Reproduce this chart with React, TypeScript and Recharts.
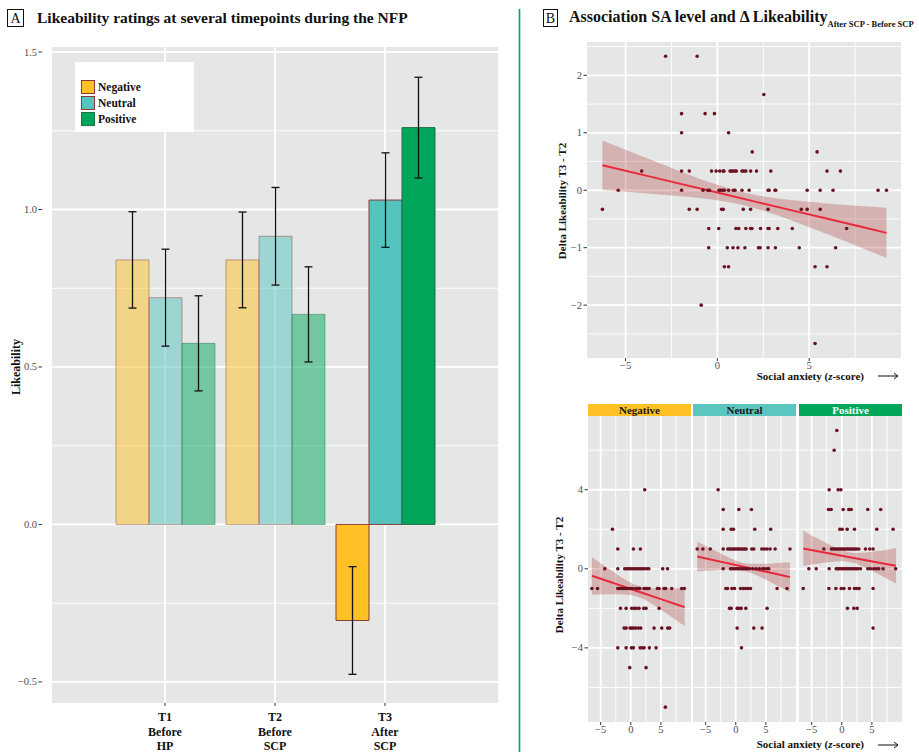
import React from 'react'
import {
  BarChart,
  Bar,
  ErrorBar,
  Cell,
  ComposedChart,
  Area,
  Line,
  Scatter,
  XAxis,
  YAxis,
  CartesianGrid,
  Legend,
} from 'recharts'

const FONT = '"Liberation Serif", "DejaVu Serif", serif'
const PANEL = '#E5E6E6'
const TICK = '#4D4D4D'
const DOT = '#6B1222'

// ---------- panel A: bars ----------
const tpLabels = [
  ['T1', 'Before', 'HP'],
  ['T2', 'Before', 'SCP'],
  ['T3', 'After', 'SCP'],
]
const groupNames = ['Negative', 'Neutral', 'Positive']
const negMean = [0.84, 0.84, -0.305]
const neuMean = [0.72, 0.915, 1.03]
const posMean = [0.575, 0.667, 1.26]
const negSe = [0.153, 0.152, 0.171]
const neuSe = [0.154, 0.155, 0.15]
const posSe = [0.151, 0.151, 0.16]
const faded = [true, true, false]
const likeTicks = [-0.5, 0, 0.5, 1, 1.5]
const likeMinor = [-0.25, 0.25, 0.75, 1.25]

const groupFill = ['#FFC125', '#56C4BE', '#00A65A']
const groupStroke = ['#8B3A3A', '#8B3A3A', '#1F7046']

// ---------- panel B: scatter ----------
const xDomain = [-7.1, 10.0]
const xTicks = [-5, 0, 5]
const xMinor = [-2.5, 2.5, 7.5]

// all stimuli pooled, rows = delta level, values = social anxiety z
const allLevels: [number, number[]][] = [
  [2.333, [-2.82, -1.1]],
  [1.667, [2.53]],
  [1.333, [-1.95, -0.67, -0.16]],
  [1.0, [-1.95, 0.61]],
  [0.667, [1.9, 5.43]],
  [0.333, [-4.12, -1.95, -1.53, -0.32, -0.07, 0.13, 0.31, 0.36, 0.69, 0.76, 0.85, 0.96, 1.03, 1.34, 1.44, 1.55, 1.81, 2.13, 2.91, 5.97, 6.7]],
  [0, [-5.4, -1.95, -0.78, -0.52, -0.43, 0.09, 0.18, 0.29, 0.38, 0.61, 0.87, 0.96, 1.34, 1.73, 2.76, 2.82, 3.14, 3.18, 4.89, 5.6, 6.3, 8.75, 9.21]],
  [-0.333, [-6.26, -1.53, -1.1, 0.23, 0.32, 1.41, 1.81, 2.76, 4.57, 4.89, 5.6]],
  [-0.667, [-0.47, 0.07, 1.01, 1.16, 1.55, 1.81, 1.88, 2.35, 2.76, 2.82, 3.29, 4.08, 7.04]],
  [-1, [-0.47, 0.54, 0.85, 1.12, 1.5, 2.24, 2.33, 2.76, 3.16, 4.46, 6.44]],
  [-1.333, [0.38, 0.61, 5.32, 5.97]],
  [-2, [-0.88]],
  [-2.667, [5.32]],
]
const allFitX = [-6.26, -4, -2, 0, 2, 4, 6, 8, 9.21]
const allFitY = [0.435, 0.263, 0.111, -0.041, -0.194, -0.346, -0.498, -0.65, -0.742]
const allFitHw = [0.43, 0.314, 0.217, 0.135, 0.114, 0.176, 0.269, 0.371, 0.435]

const negLevels: [number, number[]][] = [
  [4, [2.32]],
  [2, [-3.04]],
  [1, [-2.15, 0.44, 1.6]],
  [0, [-4.31, -2.15, -1.0, -0.7, -0.4, -0.1, 0.2, 0.5, 0.8, 1.1, 1.4, 1.7, 2.0, 2.3, 2.7, 3.0, 5.3, 6.1]],
  [-1, [-6.46, -5.52, -2.15, -1.93, -1.66, -1.38, -1.1, -0.83, -0.55, -0.28, 0, 0.28, 0.83, 1.22, 1.49, 2.21, 2.49, 2.76, 3.04, 4.42, 4.7, 5.52, 5.8, 6.8, 8.45, 8.9]],
  [-2, [-1.71, -0.77, 0.17, 0.55, 0.94, 1.38, 2.15, 2.54, 4.7]],
  [-3, [-1.1, -0.77, -0.11, 0.17, 0.44, 0.83, 1.27, 1.66, 3.87, 5.14, 6.13, 6.46]],
  [-4, [-2.15, -0.77, 0.11, 0.44, 1.55, 1.93, 2.21, 3.09, 4.2]],
  [-5, [-0.17, 2.54]],
  [-7, [5.74]],
]
const negFitX = [-6.46, -4, -2, 0, 2, 4, 6, 8, 8.95]
const negFitY = [-0.354, -0.607, -0.813, -1.019, -1.225, -1.431, -1.637, -1.843, -1.94]
const negFitHw = [0.955, 0.68, 0.47, 0.31, 0.295, 0.435, 0.64, 0.857, 0.97]

const neuLevels: [number, number[]][] = [
  [4, [-2.93]],
  [3, [-2.09, 0.51, 2.6]],
  [2, [-2.09, -0.76, -0.38, 3.15, 5.8]],
  [1, [-6.4, -5.46, -4.24, -2.09, -1.32, -1.04, -0.76, -0.49, -0.21, 0.07, 0.34, 0.62, 0.9, 1.17, 1.45, 1.72, 2.66, 2.99, 4.32, 4.76, 5.2, 5.7, 6.53, 9.0]],
  [0, [-2.09, -0.87, -0.6, -0.32, -0.04, 0.23, 0.51, 0.79, 1.06, 1.34, 1.62, 1.89, 2.28, 2.83, 3.38, 3.94, 4.49, 4.76, 5.2, 5.48]],
  [-1, [-1.65, -1.37, -0.65, -0.21, 0.79, 1.23, 1.62, 2.0, 2.44, 6.86, 8.5]],
  [-2, [-1.04, -0.76, 0.23, 0.51, 0.9, 1.67, 5.2]],
  [-3, [0.23, 2.99, 4.37]],
  [-4, [0.95]],
]
const neuFitX = [-6.4, -4, -2, 0, 2, 4, 6, 8, 9.0]
const neuFitY = [0.624, 0.461, 0.326, 0.19, 0.054, -0.081, -0.217, -0.353, -0.42]
const neuFitHw = [0.76, 0.543, 0.372, 0.235, 0.211, 0.326, 0.49, 0.669, 0.75]

const posLevels: [number, number[]][] = [
  [7, [-0.82]],
  [6, [-1.26]],
  [4, [-2.09, -0.6, -0.15]],
  [3, [-2.2, -1.76, 0.23, 1.17, 1.56, 4.32, 6.47]],
  [2, [-0.32, 0.07, 0.9, 2.11, 5.81, 8.52]],
  [1, [-2.97, -1.7, -1.42, -1.15, -0.87, -0.6, -0.32, -0.04, 0.23, 0.51, 0.79, 1.06, 1.34, 1.61, 1.89, 2.17, 2.44, 2.83, 3.93, 4.65, 5.2]],
  [0, [-5.46, -4.24, -2.09, -0.93, -0.65, -0.38, -0.1, 0.18, 0.45, 0.73, 1.0, 1.28, 1.56, 1.83, 2.11, 2.39, 2.66, 3.1, 4.32, 4.76, 5.31, 5.75, 6.14, 6.86, 8.96]],
  [-1, [-6.4, -2.14, -0.98, -0.1, 0.34, 1.28, 2.11, 2.44, 2.88, 5.2]],
  [-2, [0.95, 2.0, 2.55]],
  [-3, [5.2]],
]
const posFitX = [-6.4, -4, -2, 0, 2, 4, 6, 8, 9.0]
const posFitY = [1.03, 0.893, 0.779, 0.665, 0.551, 0.437, 0.323, 0.209, 0.152]
const posFitHw = [0.89, 0.637, 0.439, 0.281, 0.253, 0.385, 0.575, 0.784, 0.895]

const allYTicks = [-2, -1, 0, 1, 2]
const allYMinor = [-2.5, -1.5, -0.5, 0.5, 1.5, 2.5]
const facetYTicks = [-4, 0, 4]
const facetYMinor = [-6, -2, 2, 6]

const fmtNum = (v: number) => (v < 0 ? '\u2212' + Math.abs(v) : String(v))
const fmtLike = (v: number) => (v < 0 ? '\u2212' + Math.abs(v).toFixed(1) : v.toFixed(1))

const toPoints = (levels: [number, number[]][]) =>
  levels.flatMap(([y, xs]) => xs.map((x) => ({ x, y })))

const toFit = (xs: number[], ys: number[], hw: number[]) =>
  xs.map((x, i) => ({ x, y: ys[i], band: [ys[i] - hw[i], ys[i] + hw[i]] }))

const barData = tpLabels.map((l, i) => ({
  tp: l.join('|'),
  Negative: negMean[i],
  Neutral: neuMean[i],
  Positive: posMean[i],
  NegativeSe: negSe[i],
  NeutralSe: neuSe[i],
  PositiveSe: posSe[i],
}))

function makeYTick(fmt: (v: number) => string) {
  return (p: any) => (
    <g>
      <line x1={p.x + 1.5} x2={p.x + 5} y1={p.y} y2={p.y} stroke="#333" strokeWidth={1} />
      <text x={p.x} y={p.y} dy={3.5} textAnchor="end" fontSize={10.5} fill={TICK} fontFamily={FONT}>
        {fmt(p.payload.value)}
      </text>
    </g>
  )
}

const xTickScatter = (p: any) => (
  <text x={p.x} y={p.y} dy={8} textAnchor="middle" fontSize={10.5} fill={TICK} fontFamily={FONT}>
    {fmtNum(p.payload.value)}
  </text>
)

const xTickBars = (p: any) => {
  const lines = String(p.payload.value).split('|')
  return (
    <text x={p.x} y={p.y} textAnchor="middle" fontSize={12} fontWeight="bold" fill="#111" fontFamily={FONT}>
      {lines.map((s, i) => (
        <tspan key={i} x={p.x} dy={i === 0 ? 13 : 14.5}>
          {s}
        </tspan>
      ))}
    </text>
  )
}

const dotShape = (p: any) => <circle cx={p.cx} cy={p.cy} r={1.8} fill={DOT} />

const legendContent = () => (
  <div style={{ background: '#fff', width: 119, height: 70, boxSizing: 'border-box', paddingTop: 17, paddingLeft: 6 }}>
    {groupNames.map((g, i) => (
      <div key={g} style={{ display: 'flex', alignItems: 'center', height: 16 }}>
        <div
          style={{
            width: 14,
            height: 14,
            boxSizing: 'border-box',
            background: groupFill[i],
            border: `1.5px solid ${groupStroke[i]}`,
          }}
        />
        <span style={{ marginLeft: 3, font: `bold 11.5px ${FONT}`, color: '#111' }}>{g}</span>
      </div>
    ))}
  </div>
)

function LikeabilityBars() {
  return (
    <BarChart
      width={510}
      height={754}
      data={barData}
      margin={{ top: 47, right: 11, left: 0, bottom: 0 }}
      barCategoryGap={6}
      barGap={0}
    >
      <CartesianGrid fill={PANEL} stroke="#fff" strokeWidth={0.9} vertical={false} horizontalValues={likeMinor} />
      <CartesianGrid stroke="#fff" strokeWidth={1.8} horizontalValues={likeTicks} />
      <XAxis
        dataKey="tp"
        padding={{ left: 59, right: 59 }}
        height={51}
        axisLine={false}
        tickSize={3}
        tickMargin={2}
        tickLine={{ stroke: '#333' }}
        tick={xTickBars}
        interval={0}
      />
      <YAxis
        width={51}
        domain={[-0.567, 1.516]}
        ticks={likeTicks}
        allowDataOverflow
        axisLine={false}
        tickLine={false}
        tickSize={0}
        tickMargin={14}
        tick={makeYTick(fmtLike)}
      />
      {groupNames.map((g, gi) => (
        <Bar key={g} dataKey={g} name={g} fill={groupFill[gi]} stroke={groupStroke[gi]} strokeWidth={1} isAnimationActive={false}>
          {barData.map((_, i) => (
            <Cell key={i} fillOpacity={faded[i] ? 0.5 : 1} strokeOpacity={faded[i] ? 0.45 : 1} />
          ))}
          <ErrorBar dataKey={g + 'Se'} width={4} stroke="#111" strokeWidth={1.3} />
        </Bar>
      ))}
      <Legend
        layout="vertical"
        align="center"
        verticalAlign="middle"
        content={legendContent}
        wrapperStyle={{ left: 75, top: 62, width: 119, height: 70 }}
      />
    </BarChart>
  )
}

interface PanelProps {
  left: number
  top: number
  width: number
  height: number
  marginTop: number
  marginRight: number
  marginBottom: number
  yAxisWidth: number
  showY: boolean
  yDomain: number[]
  yTicks: number[]
  yMinor: number[]
  tickMargin: number
  levels: [number, number[]][]
  fit: { x: number; y: number; band: number[] }[]
}

function ScatterPanel(p: PanelProps) {
  const pts = toPoints(p.levels)
  return (
    <div style={{ position: 'absolute', left: p.left, top: p.top }}>
      <ComposedChart
        width={p.width}
        height={p.height}
        data={p.fit}
        margin={{ top: p.marginTop, right: p.marginRight, left: 0, bottom: p.marginBottom }}
      >
        <CartesianGrid fill={PANEL} stroke="#fff" strokeWidth={0.9} horizontalValues={p.yMinor} verticalValues={xMinor} />
        <CartesianGrid stroke="#fff" strokeWidth={1.8} horizontalValues={p.yTicks} verticalValues={xTicks} />
        <XAxis
          type="number"
          dataKey="x"
          domain={xDomain}
          ticks={xTicks}
          allowDataOverflow
          height={16}
          axisLine={false}
          tickSize={3}
          tickMargin={0}
          tickLine={{ stroke: '#333' }}
          tick={xTickScatter}
        />
        <YAxis
          type="number"
          dataKey="y"
          domain={p.yDomain}
          ticks={p.yTicks}
          allowDataOverflow
          hide={!p.showY}
          width={p.yAxisWidth}
          axisLine={false}
          tickLine={false}
          tickSize={0}
          tickMargin={p.tickMargin}
          tick={makeYTick(fmtNum)}
        />
        <Scatter data={pts} dataKey="y" shape={dotShape} isAnimationActive={false} />
        <Area dataKey="band" type="monotone" fill="#B03A3A" fillOpacity={0.3} stroke="none" isAnimationActive={false} />
        <Line dataKey="y" type="linear" stroke="#E8283C" strokeWidth={2} dot={false} isAnimationActive={false} />
      </ComposedChart>
    </div>
  )
}

const strips = [
  { name: 'Negative', x: 588, fill: '#FFC125', color: '#1a1a1a' },
  { name: 'Neutral', x: 693, fill: '#5BC5C0', color: '#1a1a1a' },
  { name: 'Positive', x: 799, fill: '#00A65A', color: '#fff' },
]

function Arrow({ x, y }: { x: number; y: number }) {
  return (
    <g stroke="#111" strokeWidth={1} fill="none">
      <line x1={x} x2={x + 20} y1={y} y2={y} />
      <polyline points={`${x + 16},${y - 3} ${x + 20},${y} ${x + 16},${y + 3}`} />
    </g>
  )
}

export default function App() {
  const facetCommon = {
    top: 416,
    height: 322,
    marginTop: 0,
    marginRight: 0,
    marginBottom: 0,
    yDomain: [-7.75, 7.73],
    yTicks: facetYTicks,
    yMinor: facetYMinor,
    tickMargin: 5,
  }
  return (
    <div style={{ position: 'absolute', left: 0, top: 0, width: 919, height: 754, background: '#fff', overflow: 'hidden' }}>
      <div style={{ position: 'absolute', left: 0, top: 0 }}>
        <LikeabilityBars />
      </div>
      <ScatterPanel
        left={541}
        top={30}
        width={369}
        height={348}
        marginTop={12}
        marginRight={9}
        marginBottom={4}
        yAxisWidth={46}
        showY
        yDomain={[-2.92, 2.58]}
        yTicks={allYTicks}
        yMinor={allYMinor}
        tickMargin={5}
        levels={allLevels}
        fit={toFit(allFitX, allFitY, allFitHw)}
      />
      <ScatterPanel {...facetCommon} left={568} width={123} yAxisWidth={20} showY levels={negLevels} fit={toFit(negFitX, negFitY, negFitHw)} />
      <ScatterPanel {...facetCommon} left={693} width={103} yAxisWidth={0} showY={false} levels={neuLevels} fit={toFit(neuFitX, neuFitY, neuFitHw)} />
      <ScatterPanel {...facetCommon} left={799} width={103} yAxisWidth={0} showY={false} levels={posLevels} fit={toFit(posFitX, posFitY, posFitHw)} />

      <svg width={919} height={754} style={{ position: 'absolute', left: 0, top: 0, pointerEvents: 'none' }} fontFamily={FONT}>
        {/* panel A header */}
        <rect x={7.5} y={9.5} width={16} height={17} fill="none" stroke="#111" strokeWidth={1} />
        <text x={15.5} y={23} textAnchor="middle" fontSize={14} fill="#111">A</text>
        <text x={37} y={23} fontSize={15.5} fontWeight="bold" fill="#111">
          Likeability ratings at several timepoints during the NFP
        </text>
        <text transform="translate(20,367) rotate(-90)" textAnchor="middle" fontSize={12} fontWeight="bold" fill="#111">
          Likeability
        </text>

        {/* divider */}
        <line x1={519.5} x2={519.5} y1={9} y2={752} stroke="#00A65A" strokeWidth={1.6} />

        {/* panel B header */}
        <rect x={543.5} y={9.5} width={14} height={17} fill="none" stroke="#111" strokeWidth={1} />
        <text x={550.5} y={23} textAnchor="middle" fontSize={14} fill="#111">B</text>
        <text x={569} y={22} fontSize={16} fontWeight="bold" fill="#111">
          Association SA level and Δ Likeability
          <tspan fontSize={8.5} dy={5}>After SCP - Before SCP</tspan>
        </text>

        {/* axis titles, panel B */}
        <text transform="translate(566,201) rotate(-90)" textAnchor="middle" fontSize={11} fontWeight="bold" fill="#111">
          Delta Likeability T3 - T2
        </text>
        <text transform="translate(563,575) rotate(-90)" textAnchor="middle" fontSize={11} fontWeight="bold" fill="#111">
          Delta Likeability T3 - T2
        </text>
        <text x={864} y={380} textAnchor="end" fontSize={11} fontWeight="bold" fill="#111">
          Social anxiety (<tspan fontStyle="italic">z</tspan>-score)
        </text>
        <Arrow x={878} y={376} />
        <text x={864} y={748} textAnchor="end" fontSize={11} fontWeight="bold" fill="#111">
          Social anxiety (<tspan fontStyle="italic">z</tspan>-score)
        </text>
        <Arrow x={878} y={745} />

        {/* facet strips */}
        {strips.map((s) => (
          <g key={s.name}>
            <rect x={s.x} y={404} width={103} height={12} fill={s.fill} />
            <text x={s.x + 51.5} y={413.5} textAnchor="middle" fontSize={11} fontWeight="bold" fill={s.color}>
              {s.name}
            </text>
          </g>
        ))}
      </svg>
    </div>
  )
}
